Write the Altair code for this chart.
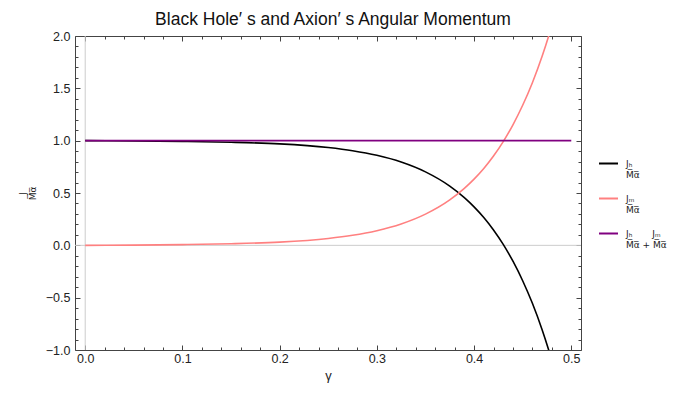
import altair as alt
import pandas as pd

# ---- data ----
gamma = [0.0, 0.05, 0.1, 0.15, 0.2, 0.25, 0.275, 0.3, 0.325, 0.35, 0.375, 0.39, 0.4,
         0.41, 0.42, 0.43, 0.44, 0.45, 0.46, 0.47, 0.48, 0.49, 0.5]
j_h = [1.0, 0.998, 0.993, 0.985, 0.969, 0.934, 0.904, 0.860, 0.796, 0.702, 0.566, 0.456,
       0.368, 0.266, 0.147, 0.009, -0.152, -0.338, -0.554, -0.806, -1.10, -1.44, -1.83]
j_m = [0.0, 0.002, 0.007, 0.015, 0.031, 0.066, 0.096, 0.140, 0.204, 0.298, 0.434, 0.544,
       0.632, 0.734, 0.853, 0.991, 1.152, 1.338, 1.554, 1.806, 2.10, 2.44, 2.83]
gamma_sum = [0.0, 0.5]
j_sum = [1.0, 1.0]

OV = "\u0305"
SP = "\u00a0"
DEN = "M" + OV + "α" + OV
labels = [SP + "Jₕ|" + DEN,
          SP + "Jₘ|" + DEN,
          SP + "Jₕ" + SP * 7 + "Jₘ|" + DEN + " + " + DEN]
colors = ["#000000", "#FF8080", "#800080"]

x_major = [0.0, 0.1, 0.2, 0.3, 0.4, 0.5]
x_minor = [0.02, 0.04, 0.06, 0.08, 0.12, 0.14, 0.16, 0.18, 0.22, 0.24, 0.26, 0.28,
           0.32, 0.34, 0.36, 0.38, 0.42, 0.44, 0.46, 0.48]
y_major = [-1.0, -0.5, 0.0, 0.5, 1.0, 1.5, 2.0]
y_minor = [-0.9, -0.8, -0.7, -0.6, -0.4, -0.3, -0.2, -0.1, 0.1, 0.2, 0.3, 0.4,
           0.6, 0.7, 0.8, 0.9, 1.1, 1.2, 1.3, 1.4, 1.6, 1.7, 1.8, 1.9]

rows = []
for g, v in zip(gamma, j_h):
    rows.append({"gamma": g, "value": v, "series": labels[0]})
for g, v in zip(gamma, j_m):
    rows.append({"gamma": g, "value": v, "series": labels[1]})
for g, v in zip(gamma_sum, j_sum):
    rows.append({"gamma": g, "value": v, "series": labels[2]})
df = pd.DataFrame(rows)

FONT = "Liberation Sans"
MFONT = "DejaVu Sans"
FRAME = "#444444"
LABEL = "#222222"

xs = alt.Scale(domain=[-0.0105, 0.51], nice=False, zero=False)
ys = alt.Scale(domain=[-1.0, 2.0], nice=False, zero=False)


def ax(orient, values, size, labels_on=False, **kw):
    return alt.Axis(orient=orient, values=values, tickSize=size, offset=-size,
                    domain=False, grid=False, labels=labels_on, tickColor=FRAME,
                    tickWidth=1, **kw)


base = alt.Chart(df)

lines = base.mark_line(strokeWidth=1.6, clip=True, interpolate="monotone").encode(
    x=alt.X("gamma:Q", scale=xs,
            axis=ax("bottom", x_major, 5, True, format=".1f", labelPadding=2,
                    labelFont=FONT, labelFontSize=12.5, labelColor=LABEL,
                    title="γ", titleFont=FONT, titleFontSize=13,
                    titleFontWeight="normal", titleColor=LABEL, titlePadding=5)),
    y=alt.Y("value:Q", scale=ys,
            axis=ax("left", y_major, 5, True, format=".1f", labelPadding=5,
                    labelFont=FONT, labelFontSize=12.5, labelColor=LABEL,
                    title=["J", DEN], titleFont=MFONT, titleFontSize=9,
                    titleLineHeight=10,
                    titleFontWeight="normal", titleColor=LABEL, titlePadding=8)),
    color=alt.Color("series:N",
                    scale=alt.Scale(domain=labels, range=colors),
                    legend=alt.Legend(title=None, orient="none", legendX=523,
                                      legendY=117, symbolType="stroke",
                                      symbolSize=361, symbolStrokeWidth=2,
                                      labelFont=MFONT, labelFontSize=9,
                                      labelExpr="split(datum.label, '|')",
                                      labelColor=LABEL, rowPadding=8,
                                      labelOffset=7, labelLimit=200)),
)

zero_df = pd.DataFrame({"z": [0.0]})
hrule = alt.Chart(zero_df).mark_rule(color="#cccccc", strokeWidth=1).encode(
    y=alt.Y("z:Q", scale=ys, axis=ax("left", y_minor, 3, title=None)),
)
vrule = alt.Chart(zero_df).mark_rule(color="#cccccc", strokeWidth=1).encode(
    x=alt.X("z:Q", scale=xs, axis=ax("bottom", x_minor, 3, title=None)),
)

ghost = alt.Chart(zero_df).mark_point(opacity=0, clip=True)
top_right_major = ghost.encode(
    x=alt.X("z:Q", scale=xs, axis=ax("top", x_major, 5, title=None)),
    y=alt.Y("z:Q", scale=ys, axis=ax("right", y_major, 5, title=None)),
)
top_right_minor = ghost.encode(
    x=alt.X("z:Q", scale=xs, axis=ax("top", x_minor, 3, title=None)),
    y=alt.Y("z:Q", scale=ys, axis=ax("right", y_minor, 3, title=None)),
)

chart = alt.layer(
    lines, hrule, vrule, top_right_major, top_right_minor
).resolve_axis(x="independent", y="independent").properties(
    width=506, height=314,
    autosize="none",
    padding={"left": 67, "top": 28, "right": 86, "bottom": 36},
    title=alt.TitleParams("Black Hole′ s and Axion′ s Angular Momentum",
                          font=FONT, fontSize=17.5, fontWeight="normal",
                          color="#111111", anchor="middle", frame="group",
                          dx=5, offset=2),
).configure_view(stroke=FRAME, strokeWidth=1)

# gray zero rules beneath the curves
chart.layer = [chart.layer[1], chart.layer[2], chart.layer[0], chart.layer[3], chart.layer[4]]

chart.save("out.html", embed_options={"renderer": "svg", "actions": False})
